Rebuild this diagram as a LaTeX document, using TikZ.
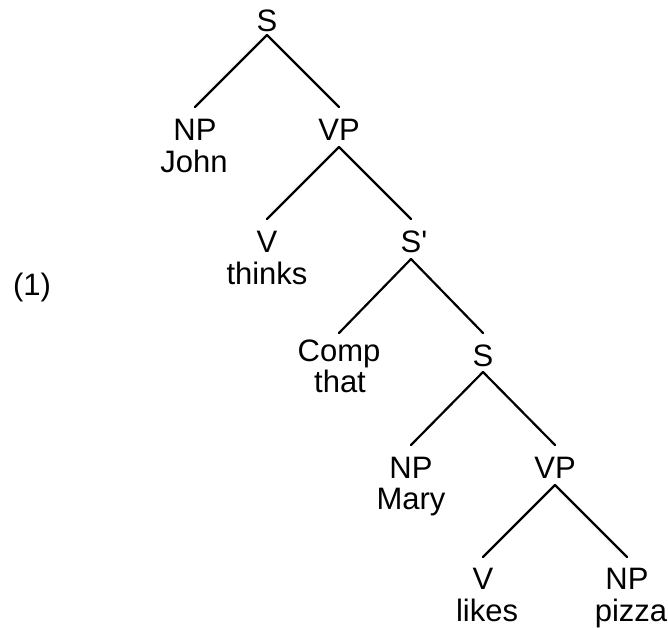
\documentclass[tikz,border=0pt]{standalone}
\usepackage{fontspec}
\setmainfont{Liberation Sans}
\begin{document}
\begin{tikzpicture}[x=1pt,y=-1pt,
  every node/.style={font=\fontsize{31}{36}\selectfont, inner sep=0pt, outer sep=0pt},
  cat/.style={anchor=base, text height=33pt, text depth=7pt},
  word/.style={anchor=base},
  branch/.style={line width=2.2pt, line cap=round}]
\useasboundingbox (0,0) rectangle (668,627);
% categories
\node[cat, text depth=4pt] (S0) at (267,31) {S};
\node[cat] (NP1) at (195,140) {NP};
\node[cat] (VP1) at (339,140) {VP};
\node[cat] (V2) at (267,252) {V};
\node[cat] (Sb) at (411,252) {S\rlap{\textquotesingle}};
\node[cat, text height=28pt] (Comp) at (339,361) {Comp};
\node[cat, text depth=6pt] (S3) at (483,366) {S};
\node[cat] (NP4) at (411,478) {NP};
\node[cat] (VP4) at (555,478) {VP};
\node[cat, text height=32pt] (V5) at (483,589) {V};
\node[cat, text height=32pt] (NP5) at (627,589) {NP};
% words
\node[word] (john) at (194,172) {John};
\node[word] (thinks) at (267,284) {thinks};
\node[word] (that) at (340,392) {that};
\node[word] (mary) at (411,509) {Mary};
\node[word] (likes) at (487,621) {likes};
\node[word] (pizza) at (631,621) {pizza};
% example number
\node[word] (num) at (32,295) {(1)};
% branches
\draw[branch] (S0.south) -- (NP1.north);
\draw[branch] (S0.south) -- (VP1.north);
\draw[branch] (VP1.south) -- (V2.north);
\draw[branch] (VP1.south) -- (Sb.north);
\draw[branch] (Sb.south) -- (Comp.north);
\draw[branch] (Sb.south) -- (S3.north);
\draw[branch] (S3.south) -- (NP4.north);
\draw[branch] (S3.south) -- (VP4.north);
\draw[branch] (VP4.south) -- (V5.north);
\draw[branch] (VP4.south) -- (NP5.north);
\end{tikzpicture}
\end{document}
